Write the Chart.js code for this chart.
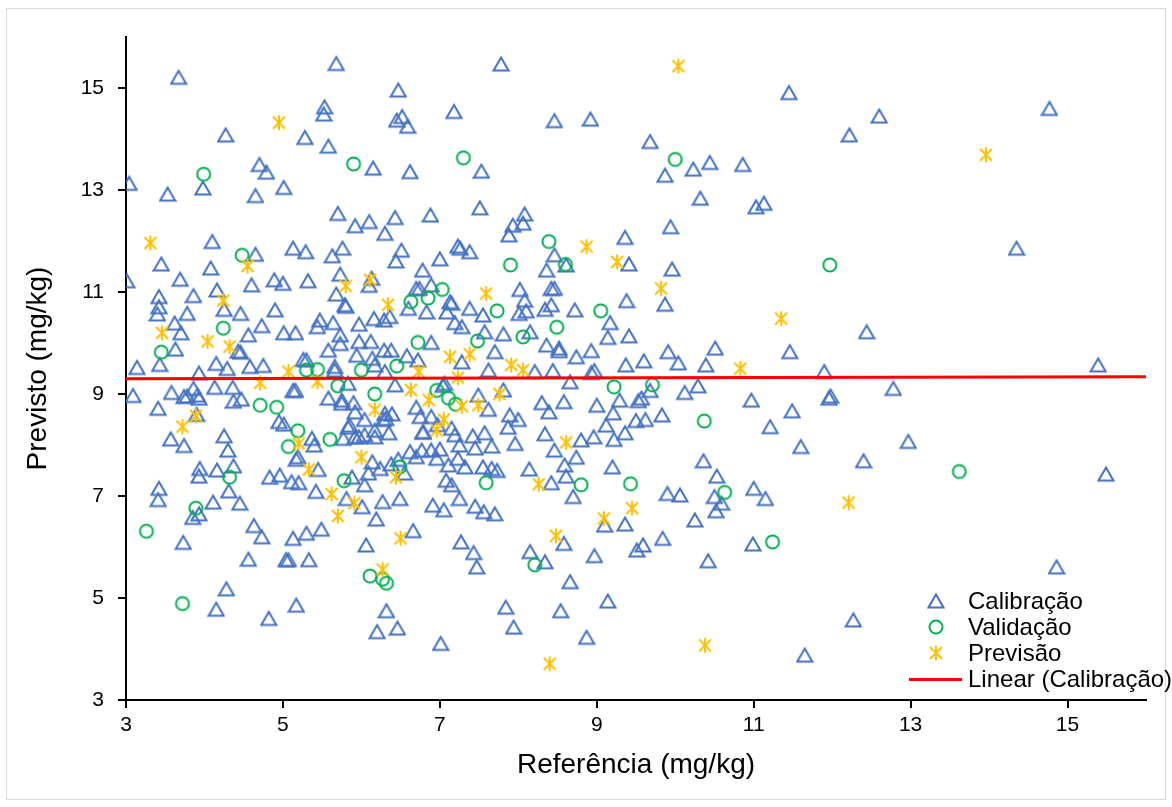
<!DOCTYPE html>
<html>
<head>
<meta charset="utf-8">
<script src="https://cdn.jsdelivr.net/npm/chart.js@4.4.1/dist/chart.umd.min.js"></script>
<style>
html,body{margin:0;padding:0;background:#fff;}
#wrap{position:relative;width:1172px;height:807px;}
#frame{position:absolute;left:6px;top:8px;width:1160px;height:792px;border:1px solid #d9d9d9;box-sizing:border-box;pointer-events:none;}
#legend{position:absolute;left:900px;top:588px;font-family:"Liberation Sans",Arial,sans-serif;font-size:24px;color:#000;}
#legend .row{position:relative;height:26px;line-height:26px;white-space:nowrap;}
#legend .row canvas{position:absolute;left:27px;top:4px;}
#legend .row span{position:absolute;left:68px;top:0;}
#legend .line{position:absolute;left:9px;top:12px;width:53px;height:3px;background:#ff0000;}
</style>
</head>
<body>
<div id="wrap">
<canvas id="chart" width="1172" height="807"></canvas>
<div id="frame"></div>
<div id="legend"></div>
</div>
<script>
// valores
const xTicks = [3,5,7,9,11,13,15]
const yTicks = [3,5,7,9,11,13,15]
const nomes = ['Calibração','Validação','Previsão','Linear (Calibração)']

const calibracao = [
[3.67,15.21],[4.27,14.08],[4.70,13.50],[4.79,13.35],[3.04,13.13],[3.98,13.04],[3.53,12.92],[4.65,12.89],[5.01,13.05],[4.10,11.99],
[4.65,11.74],[3.45,11.55],[4.08,11.47],[3.01,11.22],[3.69,11.25],[4.60,11.14],[4.89,11.24],[5.00,11.17],[3.42,10.91],[3.42,10.71],
[3.40,10.57],[3.86,10.93],[4.16,11.04],[4.25,10.66],[3.78,10.58],[4.46,10.58],[4.90,10.65],[3.62,10.39],[4.73,10.34],[3.70,10.20],
[4.56,10.16],[5.01,10.20],[4.43,9.84],[4.46,9.82],[3.63,9.88],[3.14,9.52],[3.43,9.58],[3.93,9.41],[4.15,9.60],[4.29,9.50],
[4.58,9.54],[4.75,9.56],
[3.09,8.97],[3.58,9.03],[3.74,8.95],[3.78,8.96],[3.86,9.11],[3.91,8.98],[3.93,8.92],[4.13,9.13],[4.36,9.13],[4.37,8.86],
[4.47,8.90],[3.41,8.72],[3.90,8.60],[4.95,8.46],[5.01,8.41],[3.57,8.12],[3.74,7.99],[4.25,8.18],[4.30,7.90],[3.94,7.54],
[3.93,7.39],[4.16,7.51],[4.37,7.59],[4.31,7.10],[4.83,7.37],[4.96,7.41],[3.42,7.15],[3.41,6.93],[4.11,6.88],[4.45,6.86],
[3.85,6.58],[3.93,6.65],[3.73,6.09],[4.63,6.42],[4.73,6.20],[4.56,5.76],[5.04,5.75],[4.28,5.18],[4.15,4.78],[4.82,4.60],
[5.68,15.48],[6.47,14.96],[5.53,14.63],[5.52,14.49],[7.18,14.54],[6.45,14.37],[6.52,14.44],[6.59,14.25],[5.28,14.03],[5.58,13.86],
[6.15,13.43],[6.62,13.36],[5.70,12.54],[5.92,12.30],[6.10,12.38],[6.43,12.46],[6.88,12.51],[6.30,12.15],[5.13,11.86],[5.29,11.79],
[5.63,11.71],[5.76,11.86],[6.51,11.82],[6.44,11.61],[7.00,11.65],[7.23,11.90],[7.26,11.86],[6.78,11.43],[5.73,11.35],[5.32,11.22],
[6.13,11.27],[6.10,11.13],[5.68,10.96],[5.79,10.75],[5.80,10.72],[6.70,11.07],[6.74,11.07],[6.89,11.14],[6.60,10.68],[6.83,10.61],
[7.09,10.61],[7.13,10.81],[7.15,10.78],[7.19,10.40],[7.28,10.32],[5.16,10.20],[5.44,10.32],[5.47,10.45],[5.64,10.40],[5.97,10.37],
[6.16,10.48],[6.29,10.45],[6.36,10.52],[5.73,10.16],[5.73,9.99],[5.97,10.03],[6.12,10.03],[6.89,10.01],[5.58,9.86],[5.94,9.76],
[6.14,9.70],[6.29,9.86],[6.38,9.86],[6.58,9.75],[6.72,9.67],[7.28,9.63],[5.26,9.68],[5.30,9.67],[5.66,9.54],[5.66,9.47],
[6.17,9.57],[6.30,9.44],
[5.13,9.07],[5.16,9.07],[5.83,9.21],[6.43,9.18],[5.58,8.92],[5.75,8.88],[5.75,8.82],[5.90,8.83],[5.92,8.65],[6.30,8.62],
[6.39,8.61],[6.31,8.52],[6.04,8.50],[5.85,8.39],[5.83,8.35],[5.37,8.13],[5.40,8.00],[5.19,7.77],[5.17,7.72],[5.77,8.13],
[5.92,8.16],[5.97,8.16],[6.04,8.20],[6.17,8.16],[6.17,8.29],[6.35,8.24],[6.28,8.50],[6.70,8.74],[6.75,8.56],[6.79,8.26],
[6.78,8.25],[6.89,8.56],[7.06,9.21],[7.04,9.17],[6.97,8.40],[7.15,8.33],[7.19,8.20],[7.25,8.00],[6.14,7.67],[6.09,7.45],
[6.24,7.54],[6.04,7.22],[6.38,7.63],[6.47,7.72],[6.55,7.45],[6.62,7.87],[6.70,7.77],[6.77,7.90],[6.89,7.90],[7.00,7.92],
[6.96,7.74],[7.11,7.61],[7.23,7.74],[7.08,7.31],[7.15,7.22],[7.25,6.95],[6.91,6.82],[7.05,6.73],[7.27,6.10],[5.11,7.28],
[5.20,7.26],[5.45,7.52],[5.42,7.09],[5.88,7.37],[5.81,6.95],[6.01,6.79],[6.27,6.89],[6.49,6.95],[6.19,6.55],[5.13,6.17],
[5.30,6.27],[5.49,6.35],[5.07,5.75],[5.33,5.75],[6.06,6.04],[6.66,6.32],[5.17,4.86],[6.32,4.75],[6.20,4.34],[6.46,4.41],
[7.01,4.11],
[7.78,15.47],[8.46,14.36],[8.92,14.39],[7.53,13.37],[7.51,12.65],[8.08,12.53],[7.93,12.31],[8.06,12.35],[7.88,12.12],[9.36,12.07],
[8.46,11.73],[8.61,11.53],[9.41,11.55],[8.36,11.43],[7.38,11.79],[8.02,11.05],[8.08,10.84],[8.10,10.63],[8.01,10.58],[8.42,11.07],
[8.46,11.07],[8.42,10.75],[8.34,10.66],[8.72,10.65],[9.38,10.83],[9.17,10.40],[7.38,10.68],[7.55,10.55],[7.57,10.22],[7.81,10.18],
[8.15,10.22],[9.14,10.11],[9.41,10.14],[7.70,9.83],[8.36,9.96],[8.52,9.90],[8.52,9.85],[8.74,9.73],[8.93,9.85],[9.37,9.57],
[7.62,9.47],[8.21,9.44],[8.44,9.46],[8.97,9.46],[8.93,9.42],
[8.66,9.24],[7.81,9.08],[7.49,8.98],[7.62,8.70],[8.30,8.83],[8.39,8.65],[8.58,8.85],[9.00,8.78],[9.29,8.88],[9.21,8.63],
[9.12,8.39],[9.53,8.87],[9.50,8.48],[7.89,8.59],[8.00,8.50],[7.87,8.35],[7.57,8.24],[7.42,8.18],[7.66,7.98],[7.45,7.94],
[7.96,8.03],[8.34,8.22],[8.80,8.10],[8.96,8.16],[9.22,8.11],[9.36,8.24],[8.46,7.90],[8.74,7.76],[8.59,7.61],[8.61,7.39],
[8.42,7.26],[8.14,7.53],[7.55,7.57],[7.66,7.54],[7.73,7.50],[7.32,7.57],[8.70,6.99],[9.20,7.57],[7.45,6.80],[7.56,6.69],
[7.70,6.65],[9.10,6.43],[9.36,6.45],[8.58,6.07],[7.43,5.89],[7.47,5.61],[8.15,5.91],[8.34,5.71],[8.97,5.83],[9.51,5.94],
[8.66,5.32],[9.14,4.94],[7.84,4.82],[8.54,4.75],[7.94,4.43],[8.87,4.23],
[11.45,14.91],[12.60,14.45],[12.22,14.08],[9.68,13.95],[9.87,13.29],[10.23,13.41],[10.44,13.54],[10.86,13.50],[10.32,12.84],[11.03,12.67],
[11.13,12.74],[9.94,12.28],[9.96,11.45],[9.87,10.76],[12.44,10.22],[9.91,9.83],[9.60,9.65],[10.04,9.61],[10.51,9.90],[10.39,9.57],
[11.46,9.83],[11.90,9.44],
[9.68,9.07],[9.57,8.92],[10.12,9.03],[10.29,9.16],[10.97,8.88],[11.49,8.67],[11.96,8.92],[11.98,8.96],[9.62,8.50],[9.83,8.59],
[11.21,8.36],[11.60,7.97],[12.40,7.69],[10.36,7.69],[10.53,7.39],[9.90,7.05],[10.06,7.02],[10.50,6.99],[10.59,6.86],[10.52,6.71],
[11.00,7.15],[11.15,6.95],[10.25,6.53],[9.59,6.04],[9.84,6.17],[10.99,6.06],[10.42,5.73],[12.27,4.57],[11.65,3.88],
[14.77,14.60],[14.35,11.86],[15.39,9.57],[12.78,9.11],[12.97,8.07],[15.49,7.43],[14.86,5.61]
]

const validacao = [
[3.99,13.31],[4.48,11.72],[4.24,10.29],[3.45,9.82],[4.71,8.78],[4.92,8.74],[5.07,7.97],[4.32,7.37],[3.89,6.76],[3.26,6.31],
[3.72,4.89],[5.90,13.51],[7.30,13.63],[6.63,10.81],[6.85,10.88],[7.03,11.05],[6.72,10.01],[5.30,9.47],[5.44,9.48],[6.00,9.47],
[6.45,9.55],[5.70,9.16],[6.17,9.00],[5.19,8.28],[5.60,8.11],[6.96,9.07],[7.11,8.92],[7.20,8.80],[6.49,7.57],[5.78,7.30],
[6.11,5.43],[6.27,5.37],[6.32,5.29],[8.39,11.99],[7.90,11.53],[8.60,11.54],[9.05,10.63],[7.73,10.63],[8.49,10.31],[7.48,10.04],
[8.06,10.12],[9.22,9.14],[7.59,7.26],[8.80,7.22],[9.43,7.24],[8.21,5.65],[10.00,13.60],[11.97,11.53],[9.71,9.18],[10.37,8.47],
[10.63,7.07],[11.24,6.10],[13.62,7.48]
]

const previsao = [
[4.95,14.32],[3.31,11.96],[4.55,11.51],[4.24,10.83],[3.46,10.20],[4.04,10.03],[4.32,9.93],[5.07,9.44],[4.71,9.22],[3.72,8.36],
[3.89,8.57],[5.80,11.12],[6.11,11.24],[6.34,10.75],[7.13,9.73],[6.73,9.44],[7.23,9.32],[5.44,9.24],[6.17,8.69],[6.63,9.08],
[6.86,8.88],[7.28,8.76],[7.05,8.50],[6.96,8.29],[6.00,7.76],[6.44,7.37],[5.20,8.03],[5.33,7.52],[5.62,7.04],[5.91,6.86],
[5.70,6.61],[6.50,6.17],[6.27,5.56],[8.87,11.89],[9.26,11.59],[7.59,10.97],[7.38,9.78],[7.91,9.57],[8.06,9.47],[7.76,9.00],
[7.49,8.78],[8.61,8.05],[8.26,7.23],[9.09,6.56],[9.45,6.76],[8.48,6.22],[8.40,3.71],[10.04,15.43],[9.82,11.07],[11.35,10.48],
[10.83,9.50],[12.21,6.87],[10.38,4.07],[13.96,13.69]
]

const linearX = [3,16]
const linearY = [9.30,9.34]

const azul = '#4472c4'
const verde = '#00b050'
const amarelo = '#ffc000'
const vermelho = '#ff0000'

let marcador=(tipo,cor)=>{
	let c = document.createElement('canvas')
	c.width = 18; c.height = 18
	let g = c.getContext('2d')
	g.strokeStyle = cor
	g.lineWidth = 2
	g.beginPath()
	if(tipo==='tri'){
		g.moveTo(9,2.5); g.lineTo(16.5,15.5); g.lineTo(1.5,15.5); g.closePath()
	}else if(tipo==='circ'){
		g.arc(9,9,6.5,0,Math.PI*2)
	}else{
		g.moveTo(9,1.5); g.lineTo(9,16.5)
		g.moveTo(3,3); g.lineTo(15,15)
		g.moveTo(15,3); g.lineTo(3,15)
	}
	g.stroke()
	return c
}
const imgTri = marcador('tri',azul)
const imgCirc = marcador('circ',verde)
const imgStar = marcador('star',amarelo)

let pts = arr => arr.map(p=>({x:p[0],y:p[1]}))
let fonte = s => ({family:'"Liberation Sans", Arial, sans-serif', size:s})

let eixo=(ticks,titulo,extra)=>Object.assign({
	type:'linear', min:3, max:16,
	afterBuildTicks: s=>{ s.ticks = ticks.map(v=>({value:v})) },
	grid:{display:true, drawOnChartArea:false, drawTicks:true, tickLength:8, color:'#000', lineWidth:2},
	border:{display:true, color:'#000', width:2},
	ticks:{color:'#000', font:fonte(21), maxRotation:0, autoSkip:false},
	title:{display:true, text:titulo, color:'#000', font:fonte(28)}
},extra)

const xScale = eixo(xTicks,'Referência (mg/kg)',{position:'bottom', afterFit: s=>{ s.height = 107 }})
xScale.ticks.padding = 5
xScale.title.padding = {top:0, bottom:25}
const yScale = eixo(yTicks,'Previsto (mg/kg)',{position:'left', afterFit: s=>{ s.width = 126 }})
yScale.ticks.padding = 14
yScale.title.padding = {top:21, bottom:0}

new Chart(document.getElementById('chart'),{
	type:'scatter',
	data:{datasets:[
		{label:nomes[3], data:linearX.map((v,i)=>({x:v,y:linearY[i]})), showLine:true, borderColor:vermelho, borderWidth:3, pointRadius:0, fill:false},
		{label:nomes[2], data:pts(previsao), pointStyle:imgStar, pointRadius:8},
		{label:nomes[1], data:pts(validacao), pointStyle:imgCirc, pointRadius:8},
		{label:nomes[0], data:pts(calibracao), pointStyle:imgTri, pointRadius:8}
	]},
	options:{
		responsive:false,
		animation:false,
		layout:{padding:{left:0, right:26, top:37, bottom:0}},
		plugins:{legend:{display:false}, tooltip:{enabled:false}},
		scales:{x:xScale, y:yScale}
	}
})

// legenda
let leg = document.getElementById('legend')
nomes.forEach((n,i)=>{
	let row = document.createElement('div')
	row.className = 'row'
	if(i<3){
		let c = marcador(['tri','circ','star'][i],[azul,verde,amarelo][i])
		row.appendChild(c)
	}else{
		let l = document.createElement('div')
		l.className = 'line'
		row.appendChild(l)
	}
	let s = document.createElement('span')
	s.textContent = n
	row.appendChild(s)
	leg.appendChild(row)
})
</script>
</body>
</html>
